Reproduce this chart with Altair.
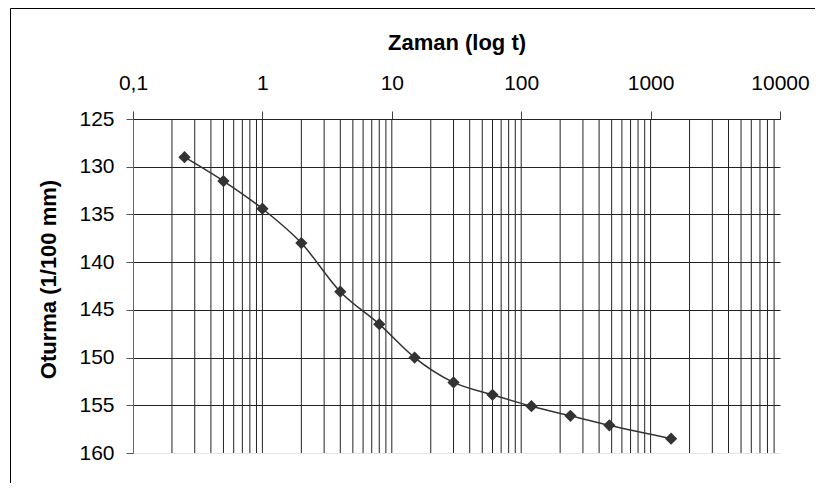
import altair as alt
import pandas as pd

# Data
time_min = [0.25, 0.5, 1, 2, 4, 8, 15, 30, 60, 120, 240, 480, 1440]
settlement = [129, 131.5, 134.4, 138, 143.1, 146.5, 150, 152.6, 153.9, 155.1, 156.1, 157.1, 158.5]
x_ticks = [0.1, 1, 10, 100, 1000, 10000]
y_ticks = [125, 130, 135, 140, 145, 150, 155, 160]
grid_mantissas = [2, 3, 4, 5, 6, 7, 8, 9]
grid_decades = [0.1, 1, 10, 100, 1000]
decade_lines = [1, 10, 100, 1000]

grid_t = [round(m * d, 6) for d in grid_decades for m in grid_mantissas] + decade_lines

df = pd.DataFrame({"t": time_min, "s": settlement})
grid_df = pd.DataFrame({"t": grid_t})
one = pd.DataFrame({"a": [0]})

FONT = "Liberation Sans"
W, H = 647, 334
PAD = {"left": 125, "top": 111, "right": 35, "bottom": 30}

xs = alt.Scale(type="log", domain=[0.1, 10000], nice=False)
ys = alt.Scale(domain=[125, 160], reverse=True, nice=False, zero=False)

xaxis = alt.Axis(
    orient="top", values=x_ticks,
    labelExpr="datum.value < 1 ? '0,1' : format(datum.value, 'd')",
    grid=False, tickSize=8, tickColor="#444", domainColor="#222",
    labelFont=FONT, labelFontSize=21, labelColor="#000", labelPadding=18,
    labelFlush=False,
    titleFont=FONT, titleFontSize=22, titleFontWeight="bold", titleColor="#000",
    titlePadding=18,
)
yaxis = alt.Axis(
    values=y_ticks, grid=True,
    gridColor=alt.condition("datum.value === 160", alt.value("#e6e6e6"), alt.value("#222")),
    tickSize=7, tickColor="#555", domainColor="#666",
    labelFont=FONT, labelFontSize=21, labelColor="#000", labelPadding=12,
    titleFont=FONT, titleFontSize=22, titleFontWeight="bold", titleColor="#000",
    titlePadding=18, titleY=160,
)

x_enc = alt.X("t:Q", scale=xs, axis=xaxis, title="Zaman (log t)")
y_enc = alt.Y("s:Q", scale=ys, axis=yaxis, title="Oturma (1/100 mm)")

vgrid = alt.Chart(grid_df).mark_rule(color="#222", strokeWidth=1).encode(x=x_enc)

line = alt.Chart(df).mark_line(interpolate="monotone", color="#333", strokeWidth=1.5).encode(
    x=x_enc, y=y_enc
)
pts = alt.Chart(df).mark_point(shape="diamond", filled=True, size=150, color="#333", opacity=1).encode(
    x=x_enc, y=y_enc
)

frame_left = alt.Chart(one).mark_rule(color="#000", strokeWidth=1).encode(
    x=alt.value(-PAD["left"] + 2.5), y=alt.value(-PAD["top"] + 0.5), y2=alt.value(H + PAD["bottom"])
)
frame_top = alt.Chart(one).mark_rule(color="#000", strokeWidth=1).encode(
    x=alt.value(-PAD["left"] + 2.5), x2=alt.value(W + PAD["right"]), y=alt.value(-PAD["top"] + 0.5)
)

chart = alt.layer(vgrid, line, pts, frame_left, frame_top).properties(
    width=W, height=H, padding=PAD, autosize=alt.AutoSizeParams(type="none"),
    background="white",
).configure_view(stroke="transparent")

chart.save("out.html", embed_options={"renderer": "svg", "actions": False})
